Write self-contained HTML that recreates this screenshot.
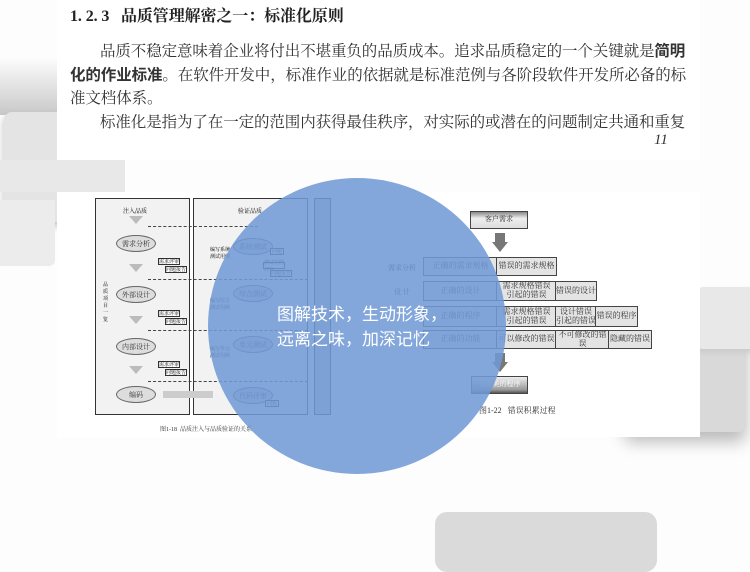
<!DOCTYPE html>
<html><head><meta charset="utf-8"><style>
*{margin:0;padding:0;box-sizing:border-box}
body{width:750px;height:564px;position:relative;overflow:hidden;background:#fdfdfd;font-family:"Liberation Serif","Noto Serif CJK SC",serif}
.a{position:absolute}
.t{font-size:15.5px;color:#333;white-space:nowrap;letter-spacing:-0.1px}
.b{font-family:"Liberation Sans","Noto Sans CJK SC",sans-serif;font-weight:bold}
.c{position:absolute;border:1.5px solid #444;background:#e4e4e4;font-size:8px;color:#333;text-align:center;display:flex;align-items:center;justify-content:center;line-height:1.1;font-family:"Liberation Serif","Noto Serif CJK SC",serif}
.ell{position:absolute;border:1px solid #666;border-radius:50%;background:#ddd;font-size:7px;text-align:center;display:flex;align-items:center;justify-content:center;color:#333}
.sm{position:absolute;border:1px solid #333;background:#fff;font-size:5px;display:flex;align-items:center;justify-content:center}
.ar{position:absolute;width:0;height:0;border-left:7px solid transparent;border-right:7px solid transparent;border-top:8px solid #bbb}
.dash{position:absolute;border-top:1px dashed #444;height:0}
</style></head><body>
<!-- background shapes -->
<div class="a" style="left:0;top:55px;width:60px;height:60px;background:linear-gradient(#fff,#c8c8c8)"></div>
<div class="a" style="left:4px;top:112px;width:60px;height:110px;background:#e4e4e4;border-radius:8px;box-shadow:0 4px 8px #bbb"></div>
<div class="a" style="left:0;top:200px;width:55px;height:66px;background:#ececec;border-radius:0 0 6px 0"></div>
<div class="a" style="left:0;top:160px;width:125px;height:32px;background:#e8e8e8"></div>
<div class="a" style="left:624px;top:320px;width:122px;height:112px;background:#d9d9d9;border-radius:8px;box-shadow:0 10px 16px #bbb"></div>
<div class="a" style="left:697px;top:287px;width:60px;height:62px;background:#e8e8e8;border-radius:6px;box-shadow:-2px 4px 6px #ccc"></div>
<div class="a" style="left:435px;top:512px;width:222px;height:60px;background:#dadada;border-radius:12px"></div>
<!-- page -->
<div class="a" style="left:57px;top:0;width:643px;height:160px;background:#fff"></div>
<div class="a" style="left:57px;top:192px;width:643px;height:245px;background:#fff"></div>
<div class="a t b" style="left:70px;top:3px;font-size:16px;color:#222;font-family:'Liberation Serif','Noto Serif CJK SC',serif">1. 2. 3&nbsp;&nbsp;&nbsp;品质管理解密之一：标准化原则</div>
<div class="a t" style="left:100px;top:39px">品质不稳定意味着企业将付出不堪重负的品质成本。追求品质稳定的一个关键就是<span class="b">简明</span></div>
<div class="a t" style="left:70px;top:63px"><span class="b">化的作业标准</span>。在软件开发中，标准作业的依据就是标准范例与各阶段软件开发所必备的标</div>
<div class="a t" style="left:70px;top:86px">准文档体系。</div>
<div class="a t" style="left:100px;top:110px">标准化是指为了在一定的范围内获得最佳秩序，对实际的或潜在的问题制定共通和重复</div>
<div class="a" style="left:654px;top:132px;font-style:italic;font-size:15px;color:#333">11</div>

<!-- left figure -->
<div class="a" style="left:95px;top:198px;width:95px;height:217px;border:1.5px solid #333;background:#f2f2f2"></div>
<div class="a" style="left:193px;top:198px;width:115px;height:217px;border:1.5px solid #333;background:#f2f2f2"></div>
<div class="a" style="left:314px;top:198px;width:17px;height:217px;border:1.5px solid #333;background:#ccc"></div>
<div class="a" style="left:123px;top:206px;font-size:6px">注入品质</div>
<div class="a" style="left:238px;top:206px;font-size:6px">验证品质</div>
<div class="ell" style="left:116px;top:235px;width:40px;height:17px">需求分析</div>
<div class="ell" style="left:116px;top:286px;width:40px;height:17px">外部设计</div>
<div class="ell" style="left:116px;top:338px;width:40px;height:17px">内部设计</div>
<div class="ell" style="left:116px;top:386px;width:40px;height:17px">编码</div>
<div class="ar" style="left:129px;top:216px"></div>
<div class="ar" style="left:129px;top:264px"></div>
<div class="ar" style="left:129px;top:316px"></div>
<div class="ar" style="left:129px;top:366px"></div>
<div class="a" style="left:163px;top:391px;width:50px;height:7px;background:#ccc"></div>
<div class="ell" style="left:233px;top:238px;width:40px;height:17px;background:#cfd8e8">系统测试</div>
<div class="ell" style="left:233px;top:285px;width:40px;height:17px;background:#cfd8e8">综合测试</div>
<div class="ell" style="left:233px;top:336px;width:40px;height:17px;background:#cfd8e8">单元测试</div>
<div class="ell" style="left:233px;top:387px;width:40px;height:17px;background:#cfd8e8">代码评审</div>
<div class="a" style="left:210px;top:247px;font-size:5px;line-height:7px">编写系统<br>测试用例</div>
<div class="a" style="left:210px;top:298px;font-size:5px;line-height:7px">编写综合<br>测试用例</div>
<div class="a" style="left:210px;top:346px;font-size:5px;line-height:7px">编写单元<br>测试用例</div>
<div class="dash" style="left:148px;top:226px;width:110px"></div>
<div class="dash" style="left:148px;top:279px;width:160px"></div>
<div class="dash" style="left:148px;top:330px;width:160px"></div>
<div class="dash" style="left:148px;top:381px;width:160px"></div>
<div class="sm" style="left:158px;top:258px;width:22px;height:7px">需求评审</div>
<div class="sm" style="left:165px;top:266px;width:22px;height:7px">问题报告</div>
<div class="sm" style="left:158px;top:310px;width:22px;height:7px">需求评审</div>
<div class="sm" style="left:165px;top:318px;width:22px;height:7px">问题报告</div>
<div class="sm" style="left:158px;top:361px;width:22px;height:7px">需求评审</div>
<div class="sm" style="left:165px;top:369px;width:22px;height:7px">问题报告</div>
<div class="sm" style="left:270px;top:248px;width:14px;height:7px">问题</div>
<div class="sm" style="left:263px;top:262px;width:22px;height:7px">测试用例评审</div>
<div class="sm" style="left:270px;top:270px;width:22px;height:7px">问题报告</div>
<div class="sm" style="left:265px;top:400px;width:14px;height:7px">问题</div>
<div class="a" style="left:103px;top:282px;font-size:5px;width:6px;line-height:7px">品质项目一览</div>
<div class="a" style="left:160px;top:424px;font-size:6px;color:#333">图1-18&nbsp;&nbsp;品质注入与品质验证的关系</div>

<!-- right figure -->
<div class="c" style="left:470px;top:211px;width:58px;height:18px;background:linear-gradient(#888,#eee 40%,#ddd);font-size:7px">客户需求</div>
<div class="a" style="left:495px;top:233px;width:10px;height:9px;background:#777"></div>
<div class="a" style="left:492px;top:242px;border-left:8px solid transparent;border-right:8px solid transparent;border-top:10px solid #777"></div>
<div class="a" style="left:388px;top:263px;font-size:7px">需求分析</div>
<div class="a" style="left:394px;top:287px;font-size:7px">设 计</div>
<div class="c" style="left:423px;top:257px;width:75px;height:19px">正确的需求规格</div>
<div class="c" style="left:496px;top:257px;width:61px;height:19px">错误的需求规格</div>
<div class="c" style="left:423px;top:281px;width:75px;height:20px">正确的设计</div>
<div class="c" style="left:496px;top:281px;width:61px;height:20px">需求规格错误<br>引起的错误</div>
<div class="c" style="left:555px;top:281px;width:42px;height:20px">错误的设计</div>
<div class="c" style="left:423px;top:306px;width:75px;height:21px">正确的程序</div>
<div class="c" style="left:496px;top:306px;width:61px;height:21px">需求规格错误<br>引起的错误</div>
<div class="c" style="left:555px;top:306px;width:42px;height:21px">设计错误<br>引起的错误</div>
<div class="c" style="left:595px;top:306px;width:43px;height:21px">错误的程序</div>
<div class="c" style="left:423px;top:330px;width:75px;height:19px">正确的功能</div>
<div class="c" style="left:496px;top:330px;width:61px;height:19px">可以修改的错误</div>
<div class="c" style="left:555px;top:330px;width:55px;height:19px">不可修改的错误</div>
<div class="c" style="left:608px;top:330px;width:44px;height:19px">隐藏的错误</div>
<div class="a" style="left:495px;top:353px;width:10px;height:9px;background:#777"></div>
<div class="a" style="left:492px;top:362px;border-left:8px solid transparent;border-right:8px solid transparent;border-top:10px solid #777"></div>
<div class="c" style="left:471px;top:376px;width:57px;height:18px;background:linear-gradient(#eee,#999 80%,#555);font-size:7px;color:#fff">不完美的程序</div>
<div class="a" style="left:479px;top:405px;font-size:8px;color:#333">图1-22&nbsp;&nbsp;&nbsp;错误积累过程</div>

<!-- circle -->
<div class="a" style="left:208px;top:178px;width:298px;height:296px;border-radius:50%;background:rgba(112,154,212,0.87)"></div>
<div class="a" style="left:277px;top:302px;font-family:'Liberation Sans','Noto Sans CJK SC',sans-serif;font-size:17px;color:#fff;line-height:25px;white-space:nowrap">图解技术，生动形象，<br>远离之味，加深记忆</div>
</body></html>
